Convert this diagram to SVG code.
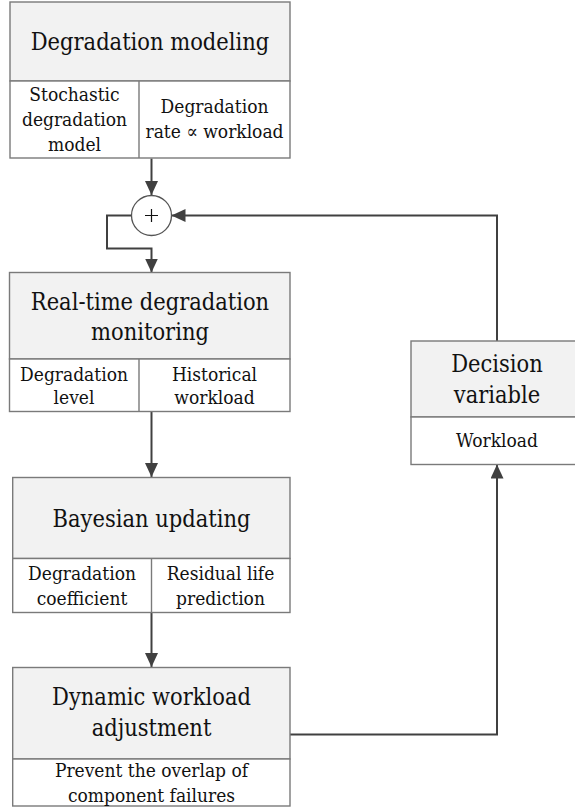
<svg xmlns="http://www.w3.org/2000/svg" width="575" height="810" viewBox="0 0 575 810">
<style>
.hd{fill:#f2f2f2;stroke:#7a7a7a;stroke-width:1.4}
.cell{fill:#ffffff;stroke:#7a7a7a;stroke-width:1.4}
.dv{stroke:#7a7a7a;stroke-width:1.4}
text{font-family:'DejaVu Serif Condensed','DejaVu Serif',serif;font-stretch:condensed;fill:#111;text-anchor:middle}
.t{font-size:23.4px}
.s{font-size:19px}
.c{fill:none;stroke:#404040;stroke-width:2}
</style>
<defs>
<marker id="ah" markerUnits="userSpaceOnUse" markerWidth="14" markerHeight="13" refX="14" refY="6.5" orient="auto">
<path d="M0,0 L14,6.5 L0,13 z" fill="#404040"/>
</marker>
</defs>
<rect width="575" height="810" fill="#ffffff"/>
<g id="connectors">
<path class="c" d="M151.5,158.5 V195" marker-end="url(#ah)"/>
<path class="c" d="M131.5,215.5 H107 V248.5 H151.5 V272.5" marker-end="url(#ah)"/>
<path class="c" d="M497,341 V215.5 H171.5" marker-end="url(#ah)"/>
<path class="c" d="M151.5,411.5 V477" marker-end="url(#ah)"/>
<path class="c" d="M151.5,612.5 V667" marker-end="url(#ah)"/>
<path class="c" d="M290,734.5 H497 V464.5" marker-end="url(#ah)"/>
</g>
<g id="sum">
<circle cx="151.5" cy="215.5" r="20" fill="#ffffff" stroke="#555" stroke-width="1.3"/>
<path d="M145,215.5 H158 M151.5,209 V222" stroke="#111" stroke-width="1.2"/>
</g>
<g id="degradation-modeling">
<rect class="hd" x="10" y="2" width="280" height="79"/>
<rect class="cell" x="10" y="81" width="280" height="77"/>
<line class="dv" x1="139" y1="81" x2="139" y2="158"/>
<text class="t" x="150" y="50">Degradation modeling</text>
<text class="s" x="74.5" y="101">Stochastic</text>
<text class="s" x="74.5" y="126">degradation</text>
<text class="s" x="74.5" y="151">model</text>
<text class="s" x="214.5" y="113">Degradation</text>
<text class="s" x="214.5" y="138">rate ∝ workload</text>
</g>
<g id="monitoring">
<rect class="hd" x="9.5" y="272.5" width="280.5" height="86.5"/>
<rect class="cell" x="9.5" y="359" width="280.5" height="52.5"/>
<line class="dv" x1="139" y1="359" x2="139" y2="411.5"/>
<text class="t" x="150" y="310">Real-time degradation</text>
<text class="t" x="150" y="340">monitoring</text>
<text class="s" x="74" y="380.5">Degradation</text>
<text class="s" x="74" y="404">level</text>
<text class="s" x="214.5" y="380.5">Historical</text>
<text class="s" x="214.5" y="404">workload</text>
</g>
<g id="bayesian">
<rect class="hd" x="12.7" y="477.5" width="277.3" height="81"/>
<rect class="cell" x="12.7" y="558.5" width="277.3" height="54"/>
<line class="dv" x1="151.5" y1="558.5" x2="151.5" y2="612.5"/>
<text class="t" x="151.5" y="526.5">Bayesian updating</text>
<text class="s" x="82" y="580">Degradation</text>
<text class="s" x="82" y="605">coefficient</text>
<text class="s" x="220.5" y="580">Residual life</text>
<text class="s" x="220.5" y="605">prediction</text>
</g>
<g id="dynamic">
<rect class="hd" x="12.7" y="667.5" width="277.3" height="91.5"/>
<rect class="cell" x="12.7" y="759" width="277.3" height="47"/>
<text class="t" x="151.5" y="705">Dynamic workload</text>
<text class="t" x="151.5" y="736">adjustment</text>
<text class="s" x="151.5" y="777">Prevent the overlap of</text>
<text class="s" x="151.5" y="801.5">component failures</text>
</g>
<g id="decision">
<rect class="hd" x="411" y="341" width="166" height="76"/>
<rect class="cell" x="411" y="417" width="166" height="47.5"/>
<text class="t" x="497" y="372">Decision</text>
<text class="t" x="497" y="402.5">variable</text>
<text class="s" x="497" y="447">Workload</text>
</g>
</svg>
